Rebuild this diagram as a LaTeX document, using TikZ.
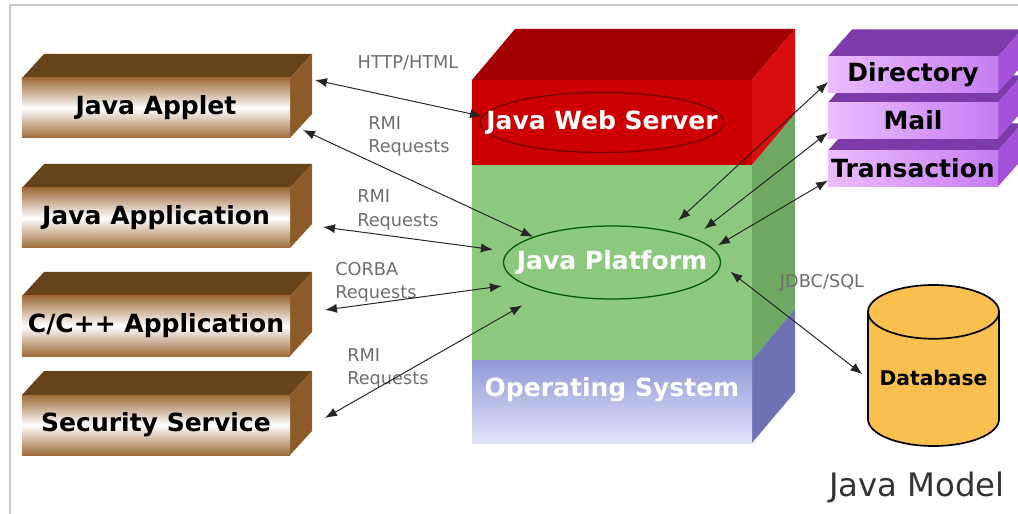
\documentclass[tikz,border=0pt]{standalone}
\usepackage{fontspec}
\setmainfont{DejaVu Sans}
\usetikzlibrary{shapes.geometric, arrows.meta, positioning, backgrounds}
\definecolor{browntop}{HTML}{66431A}
\definecolor{brownside}{HTML}{8C5B28}
\definecolor{brownfront}{HTML}{9E6B3A}
\definecolor{redtop}{HTML}{A30000}
\definecolor{redfront}{HTML}{CC0000}
\definecolor{redside}{HTML}{D90D0D}
\definecolor{greenfront}{HTML}{8CC97E}
\definecolor{greenside}{HTML}{6FA863}
\definecolor{ostop}{HTML}{9298D8}
\definecolor{osbottom}{HTML}{E0E4F8}
\definecolor{osside}{HTML}{6E72B4}
\definecolor{purpletop}{HTML}{7B3BA8}
\definecolor{purpleside}{HTML}{A352D9}
\definecolor{purplelight}{HTML}{EBBDFF}
\definecolor{purpledark}{HTML}{C57DF0}
\definecolor{dbfill}{HTML}{F9BF4F}
\definecolor{labelgray}{HTML}{6E6E6E}
\tikzset{
	frontnode/.style = {rectangle, inner sep=0pt, outer sep=0pt, text centered},
	bigtext/.style = {font=\bfseries\fontsize{17.8}{20}\selectfont},
	client/.style = {frontnode, bigtext, minimum width=6.7cm, minimum height=1.5cm, top color=brownfront, bottom color=brownfront, middle color=white},
	service/.style = {frontnode, bigtext, minimum width=4.25cm, minimum height=0.9cm, left color=purplelight, right color=purpledark},
	layer/.style = {frontnode, minimum width=7cm},
	ring/.style = {ellipse, inner sep=0pt, line width=0.9pt},
	tag/.style = {font=\fontsize{12.6}{16.7}\selectfont, text=labelgray, align=left, inner sep=0pt},
	line/.style = {draw=black!85, line width=0.7pt, {Latex[length=8.5pt,width=6.5pt]}-{Latex[length=8.5pt,width=6.5pt]}}
}
\begin{document}
\begin{tikzpicture}
	\useasboundingbox (0,0) rectangle (25.45,-12.85);
	\draw[black!22, line width=1.2pt] (0.25,-12.85) -- (0.25,-0.125) -- (25.45,-0.125);

	% Define clients on the left
	\node (applet) [client] at (3.9,-2.7) {Java Applet};
	\node (application) [client, below=1.25cm of applet] {Java Application};
	\node (cpp_app) [client, below=1.2cm of application] {C/C++ Application};
	\node (security) [client, below=0.975cm of cpp_app] {Security Service};

	% Define the platform tower
	\node (ws_front) [layer, minimum height=2.125cm, fill=redfront] at (15.3,-3.0625) {};
	\node (jp_front) [layer, minimum height=4.875cm, fill=greenfront, below=0cm of ws_front] {};
	\node (os_front) [layer, minimum height=2.075cm, top color=ostop, bottom color=osbottom, below=0cm of jp_front] {};
	\node (web_server) [ring, draw=red!45!black, minimum width=6.1cm, minimum height=1.5cm] at ([xshift=-0.25cm]ws_front.center) {};
	\node (web_server_text) [bigtext, text=white] at (web_server) {Java Web Server};
	\node (platform) [ring, draw=green!35!black, minimum width=5.425cm, minimum height=1.825cm] at (jp_front.center) {};
	\node (platform_text) [bigtext, text=white] at (platform) {Java Platform};
	\node (os) [bigtext, text=white] at ([yshift=0.29cm]os_front.center) {Operating System};

	% Define services and database on the right
	\node (directory) [service] at (22.825,-1.8625) {Directory};
	\node (mail) [service, below=0.25cm of directory] {Mail};
	\node (transaction) [service, below=0.3cm of mail] {Transaction};
	\node (database) [cylinder, shape border rotate=90, draw, line width=1.2pt, fill=dbfill, aspect=0.42, inner xsep=1.6cm, inner ysep=0pt, minimum width=3.275cm, minimum height=4.025cm, anchor=shape center] at (23.3375,-9.1375) {};
	\node (database_text) [font=\bfseries\fontsize{14.4}{16}\selectfont] at ([yshift=-0.31cm]database.shape center) {Database};
	\node (model) [font=\fontsize{23}{26}\selectfont, text=black!80] at (22.925,-12.175) {Java Model};

	% Define the faces of the boxes
	\begin{scope}[on background layer]
		\foreach \n in {applet, application, cpp_app, security} {
			\fill[browntop] (\n.north west) -- ++(0.55,0.6) -- ([shift={(0.55,0.6)}]\n.north east) -- (\n.north east) -- cycle;
			\fill[brownside] (\n.north east) -- ++(0.55,0.6) -- ([shift={(0.55,0.6)}]\n.south east) -- (\n.south east) -- cycle;
		}
		\foreach \n in {transaction, mail, directory} {
			\fill[purpletop] (\n.north west) -- ++(0.6,0.675) -- ([shift={(0.6,0.675)}]\n.north east) -- (\n.north east) -- cycle;
			\fill[purpleside] (\n.north east) -- ++(0.6,0.675) -- ([shift={(0.6,0.675)}]\n.south east) -- (\n.south east) -- cycle;
		}
		\fill[redtop] (ws_front.north west) -- ++(1.075,1.275) -- ([shift={(1.075,1.275)}]ws_front.north east) -- (ws_front.north east) -- cycle;
		\foreach \n/\c in {ws_front/redside, jp_front/greenside, os_front/osside}
			\fill[\c] (\n.north east) -- ++(1.075,1.275) -- ([shift={(1.075,1.275)}]\n.south east) -- (\n.south east) -- cycle;
	\end{scope}

	% Define the labels
	\node (http) [tag] at (10.2,-1.575) {HTTP/HTML};
	\node (rmi_applet) [tag, anchor=west] at (9.2,-3.41) {RMI\\Requests};
	\node (rmi_app) [tag, anchor=west] at (8.925,-5.25) {RMI\\Requests};
	\node (corba) [tag, anchor=west] at (8.375,-7.06) {CORBA\\Requests};
	\node (rmi_sec) [tag, anchor=west] at (8.675,-9.21) {RMI\\Requests};
	\node (jdbc) [tag] at (20.55,-7.075) {JDBC/SQL};

	% Define the links
	\path [line] ([shift={(0.625,0.7)}]applet.east) -- (web_server.177);
	\path [line] ([shift={(0.325,-0.55)}]applet.east) -- (platform.162);
	\path [line, shorten >=0.375cm] ([shift={(0.825,-0.225)}]application.east) -- (platform.174);
	\path [line, shorten >=0.5cm] ([shift={(0.875,0.4)}]cpp_app.east) -- (platform.193);
	\path [line, shorten >=0.675cm] ([shift={(0.875,0.175)}]security.east) -- (platform.204);
	\path [line, shorten >=0.375cm] (directory.-175) -- (platform.30);
	\path [line, shorten >=0.35cm] (mail.-172) -- (platform.17);
	\path [line, shorten >=0.15cm] (transaction.-172) -- (platform.8);
	\path [line, shorten <=0.3cm, shorten >=0.15cm] (platform.-1.4) -- (database_text -| database.west);
\end{tikzpicture}
\end{document}
